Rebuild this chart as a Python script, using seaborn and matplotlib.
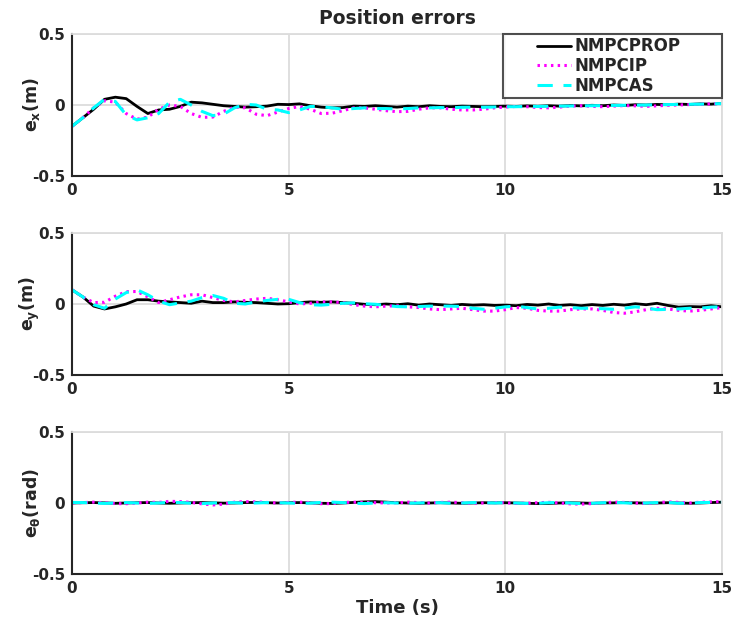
import numpy as np
import pandas as pd
import matplotlib
matplotlib.use("Agg")
import matplotlib.pyplot as plt
from matplotlib.legend_handler import HandlerLine2D
from matplotlib.lines import Line2D
import seaborn as sns

# Time axis (s)
time_s = np.arange(0, 15.0001, 0.25)

# Position error along x (m)
ex_prop = [-0.15, -0.09, -0.03, 0.04, 0.055, 0.045, -0.01, -0.06, -0.035, -0.03,
           -0.01, 0.02, 0.015, 0.005, -0.005, -0.01, -0.015, -0.012, -0.008, 0.005,
           0.003, 0.008, -0.005, -0.015, -0.02, -0.018, -0.008, -0.01, -0.005, -0.01,
           -0.015, -0.008, -0.012, -0.005, -0.01, -0.012, -0.008, -0.01, -0.012, -0.01,
           -0.008, -0.01, -0.006, -0.009, -0.005, -0.008, -0.004, -0.006, -0.002, -0.005,
           0.0, -0.003, 0.002, 0.0, 0.004, 0.002, 0.006, 0.004, 0.008, 0.006, 0.012]
ex_ip = [-0.15, -0.09, -0.02, 0.03, 0.02, -0.06, -0.1, -0.085, -0.03, 0.0,
         -0.01, -0.06, -0.087, -0.085, -0.045, -0.015, -0.02, -0.065, -0.075, -0.05,
         -0.025, -0.01, -0.03, -0.06, -0.058, -0.04, -0.02, -0.02, -0.03, -0.04,
         -0.047, -0.045, -0.03, -0.02, -0.02, -0.03, -0.035, -0.035, -0.03, -0.02,
         -0.015, -0.01, -0.012, -0.018, -0.02, -0.015, -0.008, -0.005, -0.01, -0.012,
         -0.008, -0.004, -0.006, -0.01, -0.006, -0.002, 0.0, 0.003, 0.005, 0.008, 0.01]
ex_as = [-0.15, -0.09, -0.02, 0.04, 0.025, -0.07, -0.105, -0.09, -0.06, 0.02,
         0.04, 0.0, -0.045, -0.075, -0.065, -0.02, 0.005, 0.0, -0.03, -0.035,
         -0.054, -0.035, -0.01, -0.012, -0.02, -0.03, -0.025, -0.02, -0.025, -0.025,
         -0.028, -0.025, -0.02, -0.02, -0.018, -0.02, -0.016, -0.015, -0.016, -0.014,
         -0.012, -0.012, -0.01, -0.01, -0.009, -0.008, -0.007, -0.006, -0.005, -0.004,
         -0.003, -0.002, -0.001, 0.0, 0.002, 0.003, 0.004, 0.005, 0.006, 0.008, 0.01]

# Position error along y (m)
ey_prop = [0.1, 0.05, -0.015, -0.035, -0.02, 0.0, 0.03, 0.03, 0.02, 0.015,
           0.01, 0.005, 0.02, 0.01, 0.01, 0.015, 0.012, 0.01, 0.005, 0.0,
           0.002, 0.01, 0.015, 0.012, 0.015, 0.01, 0.005, -0.002, -0.005, 0.0,
           -0.005, 0.002, -0.008, 0.0, -0.005, -0.01, -0.003, -0.008, -0.005, -0.01,
           -0.008, -0.012, -0.003, -0.008, 0.0, -0.01, -0.005, -0.012, -0.004, -0.01,
           -0.002, -0.008, 0.002, -0.005, 0.005, -0.01, -0.022, -0.018, -0.02, -0.012, -0.02]
ey_ip = [0.1, 0.05, 0.01, 0.012, 0.055, 0.087, 0.088, 0.05, 0.01, 0.03,
         0.05, 0.065, 0.065, 0.045, 0.025, 0.015, 0.025, 0.035, 0.04, 0.03,
         0.015, 0.0, 0.005, 0.015, 0.015, 0.01, -0.005, -0.015, -0.02, -0.015,
         -0.012, -0.02, -0.025, -0.035, -0.04, -0.035, -0.03, -0.04, -0.05, -0.05,
         -0.04, -0.025, -0.03, -0.045, -0.05, -0.05, -0.04, -0.035, -0.035, -0.045,
         -0.06, -0.065, -0.055, -0.04, -0.03, -0.035, -0.045, -0.05, -0.045, -0.035, -0.025]
ey_as = [0.1, 0.05, -0.005, -0.03, 0.035, 0.08, 0.1, 0.065, 0.02, -0.005,
         0.008, 0.02, 0.045, 0.06, 0.04, 0.005, 0.0, 0.015, 0.025, 0.033,
         0.033, 0.01, -0.005, -0.008, -0.002, 0.005, 0.008, 0.002, -0.002, -0.01,
         -0.018, -0.02, -0.018, -0.015, -0.015, -0.015, -0.018, -0.03, -0.037, -0.03,
         -0.02, -0.015, -0.025, -0.035, -0.03, -0.022, -0.025, -0.03, -0.03, -0.033,
         -0.037, -0.03, -0.02, -0.028, -0.04, -0.038, -0.035, -0.03, -0.03, -0.022, -0.02]

# Heading error (rad)
eth_prop = [0.0, 0.002, 0.003, 0.001, -0.002, 0.0, 0.002, 0.003, 0.0, -0.002,
            0.0, 0.002, 0.003, 0.001, -0.001, 0.0, 0.003, 0.004, 0.002, 0.0,
            0.002, 0.003, 0.001, -0.002, -0.003, 0.0, 0.004, 0.008, 0.01, 0.006,
            0.002, 0.0, -0.002, 0.0, 0.002, 0.0, -0.002, 0.0, 0.002, 0.001,
            0.002, 0.0, -0.002, -0.004, -0.003, 0.0, 0.002, 0.0, -0.002, 0.0,
            0.001, 0.003, 0.001, -0.001, 0.0, 0.002, 0.0, -0.002, 0.0, 0.003, 0.006]
eth_ip = [0.0, 0.003, 0.006, 0.002, -0.004, -0.005, 0.0, 0.006, 0.004, 0.012,
          0.01, 0.004, -0.006, -0.014, -0.008, 0.006, 0.01, 0.008, 0.004, 0.0,
          0.004, 0.006, 0.003, -0.005, -0.004, 0.004, 0.006, 0.004, 0.002, 0.0,
          0.002, 0.006, 0.003, 0.0, 0.004, 0.006, 0.002, -0.002, 0.0, 0.003,
          0.002, -0.003, -0.001, 0.002, 0.005, 0.0, -0.006, -0.008, -0.004, 0.002,
          0.006, 0.004, 0.0, -0.004, 0.002, 0.008, 0.004, 0.0, 0.006, 0.008, 0.01]
eth_as = [0.004, 0.003, 0.0, -0.003, 0.0, 0.003, 0.0, -0.003, 0.0, 0.004,
          0.003, -0.002, -0.004, 0.0, 0.003, 0.002, -0.002, 0.0, 0.003, 0.002,
          0.0, -0.003, -0.001, 0.004, 0.006, 0.003, -0.002, -0.004, 0.0, 0.002,
          0.0, -0.002, 0.0, 0.003, 0.002, -0.002, 0.0, 0.003, 0.002, 0.0,
          0.002, 0.0, -0.003, -0.002, 0.002, 0.004, 0.0, -0.004, -0.002, 0.002,
          0.004, 0.001, -0.002, 0.0, 0.003, 0.004, -0.002, -0.001, 0.003, 0.004, 0.006]

method_labels = ["NMPCPROP", "NMPCIP", "NMPCAS"]
panel_labels = [r"e$_\mathbf{x}$(m)", r"e$_\mathbf{y}$(m)", r"e$_\theta$(rad)"]
x_ticks = [0, 5, 10, 15]
y_ticks = [-0.5, 0, 0.5]

panels = [(ex_prop, ex_ip, ex_as), (ey_prop, ey_ip, ey_as), (eth_prop, eth_ip, eth_as)]

sns.set_theme(style="white")
plt.rcParams["font.family"] = ["DejaVu Sans"]
plt.rcParams["font.weight"] = "bold"
plt.rcParams["mathtext.default"] = "bf"

colors = ["#000000", "#ff00ff", "#00ffff"]
styles = ["-", (0, (0.8, 1.4)), (0, (5.0, 3.5))]
widths = [2.0, 2.2, 2.2]

fig = plt.figure(figsize=(7.39, 6.30), dpi=100)
left, width = 72 / 739, 650 / 739
tops = [34, 233, 432]
height = 142 / 630

grid_c = "#dcdcdc"
axis_c = "#262626"

axes = []
for i, (series, ylab) in enumerate(zip(panels, panel_labels)):
    bottom = 1 - (tops[i] + 142) / 630
    ax = fig.add_axes([left, bottom, width, height])
    axes.append(ax)
    for vals, lab, c, ls, lw in zip(series, method_labels, colors, styles, widths):
        df = pd.DataFrame({"t": time_s, "e": vals})
        sns.lineplot(data=df, x="t", y="e", ax=ax, color=c, linestyle=ls,
                     linewidth=lw, label=lab if i == 0 else None, legend=False)
    ax.set_xlim(0, 15)
    ax.set_ylim(-0.5, 0.5)
    ax.set_xticks(x_ticks)
    ax.set_yticks(y_ticks)
    ax.set_xticklabels([str(v) for v in x_ticks])
    ax.set_yticklabels(["-0.5", "0", "0.5"])
    ax.grid(True, color=grid_c, linewidth=1.3)
    ax.set_axisbelow(True)
    for side in ["top", "right"]:
        ax.spines[side].set_color(grid_c)
        ax.spines[side].set_linewidth(1.3)
    for side in ["left", "bottom"]:
        ax.spines[side].set_color(axis_c)
        ax.spines[side].set_linewidth(1.5)
    ax.tick_params(axis="both", direction="in", length=4, width=1.5,
                   color=axis_c, labelsize=11, labelcolor="#262626", pad=5)
    for tl in ax.get_xticklabels() + ax.get_yticklabels():
        tl.set_fontweight("bold")
    ax.set_ylabel(ylab, fontsize=12.5, fontweight="bold", color="#262626")
    ax.yaxis.set_label_coords(-0.046, 0.5)
    ax.set_xlabel("")

axes[0].set_title("Position errors", fontsize=13.5, fontweight="bold", pad=7)
axes[2].set_xlabel("Time (s)", fontsize=13, fontweight="bold", color="#262626", labelpad=2)

# Legend box spanning the upper-right part of the first panel, with the
# sample line drawn only in the right part of the handle area
handles, labels = axes[0].get_legend_handles_labels()
leg = axes[0].legend(handles, labels, loc="upper right",
                     bbox_to_anchor=((503 - 72) / 650, 0.56, 1 - (503 - 72) / 650, 0.44),
                     mode="expand", frameon=True, fancybox=False,
                     edgecolor="#262626", prop={"weight": "bold", "size": 12},
                     handlelength=3.9, handletextpad=0.2, borderpad=0.2,
                     labelspacing=0.1, borderaxespad=0.0,
                     handler_map={Line2D: HandlerLine2D(xpad=1.85)})
leg.get_frame().set_linewidth(1.5)

fig.savefig("out.png", dpi=100, facecolor="white")
